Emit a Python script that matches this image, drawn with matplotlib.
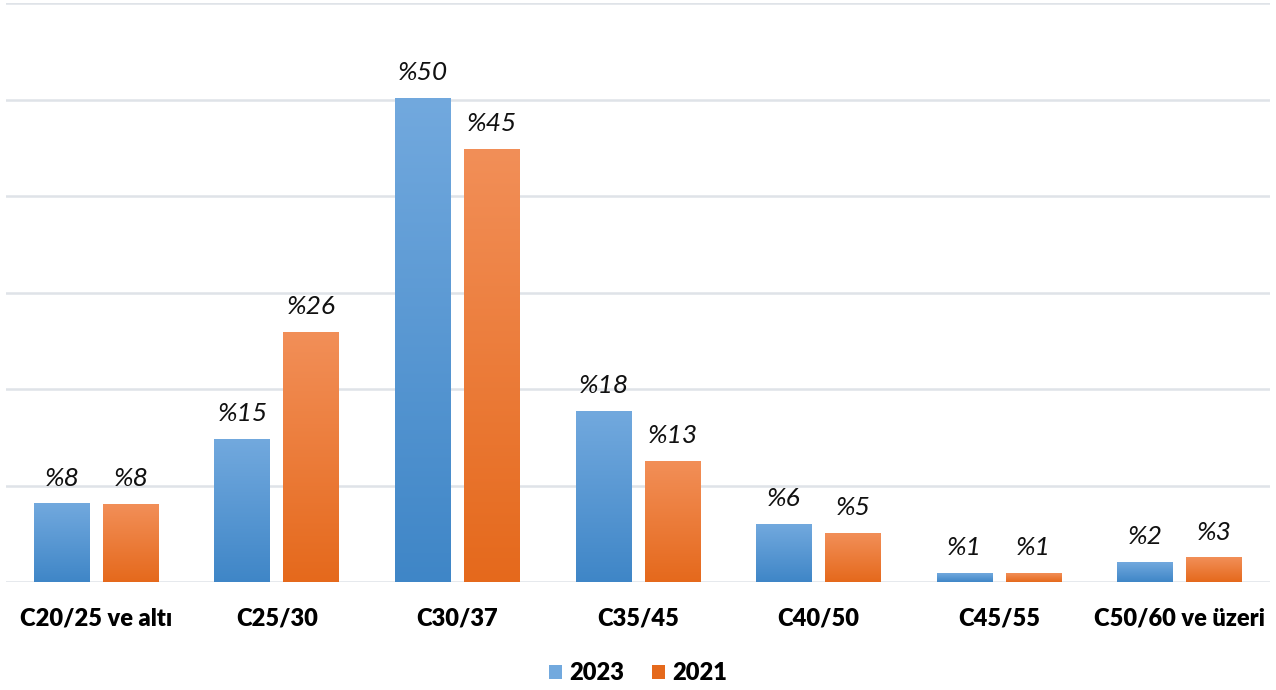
import matplotlib.pyplot as plt
import numpy as np
from matplotlib.colors import LinearSegmentedColormap
from matplotlib.patches import Patch

categories = ["C20/25 ve altı", "C25/30", "C30/37", "C35/45", "C40/50", "C45/55", "C50/60 ve üzeri"]
values_2023 = [8.1, 14.8, 50.1, 17.7, 6.0, 0.9, 2.0]
values_2021 = [8.0, 25.9, 44.8, 12.5, 5.0, 0.9, 2.5]
labels_2023 = ["%8", "%15", "%50", "%18", "%6", "%1", "%2"]
labels_2021 = ["%8", "%26", "%45", "%13", "%5", "%1", "%3"]

BLUE_TOP, BLUE_BOT = "#72a9de", "#3f86c7"
ORANGE_TOP, ORANGE_BOT = "#f28f58", "#e5691c"

plt.rcParams["font.family"] = ["Lato", "DejaVu Sans"]

fig = plt.figure(figsize=(12.76, 6.9), dpi=100)
ax = fig.add_axes([6 / 1276, 1 - 582 / 690, 1264 / 1276, 579 / 690])

x = np.arange(len(categories))
width = 0.31
offset = width / 2 + 0.036
grad = np.linspace(1, 0, 256).reshape(-1, 1)


def gradient_bars(xs, vals, top, bot):
    cmap = LinearSegmentedColormap.from_list("g", [bot, top])
    for xc, v in zip(xs, vals):
        ax.imshow(grad, cmap=cmap, aspect="auto", origin="upper",
                  extent=[xc - width / 2, xc + width / 2, 0, v], zorder=3,
                  interpolation="bicubic")


gradient_bars(x - offset, values_2023, BLUE_TOP, BLUE_BOT)
gradient_bars(x + offset, values_2021, ORANGE_TOP, ORANGE_BOT)

for xc, v, lab in zip(x - offset, values_2023, labels_2023):
    ax.text(xc, v + 1.9, lab, ha="center", va="baseline", fontsize=19, style="italic", color="#111111")
for xc, v, lab in zip(x + offset, values_2021, labels_2021):
    ax.text(xc, v + 1.9, lab, ha="center", va="baseline", fontsize=19, style="italic", color="#111111")

ax.set_xlim(-0.5, len(categories) - 0.5)
ax.set_ylim(0, 60)
ax.set_yticks(np.arange(0, 61, 10))
ax.yaxis.grid(True, color="#dfe3e8", linewidth=1.8, zorder=0)
ax.set_axisbelow(True)
ax.tick_params(left=False, labelleft=False, bottom=False)
ax.set_xticks(x)
ax.set_xticklabels(categories, fontsize=17, fontweight="heavy")
ax.tick_params(axis="x", pad=15)
for s in ax.spines.values():
    s.set_visible(False)

handles = [Patch(facecolor=BLUE_TOP, label="2023"), Patch(facecolor=ORANGE_BOT, label="2021")]
fig.legend(handles=handles, loc="center", bbox_to_anchor=(0.5, 1 - 673 / 690), ncol=2,
           frameon=False, prop={"size": 17, "weight": "heavy"}, handlelength=0.55, handleheight=0.55,
           handletextpad=0.3, columnspacing=1.2)

fig.savefig("out.png", dpi=100)
